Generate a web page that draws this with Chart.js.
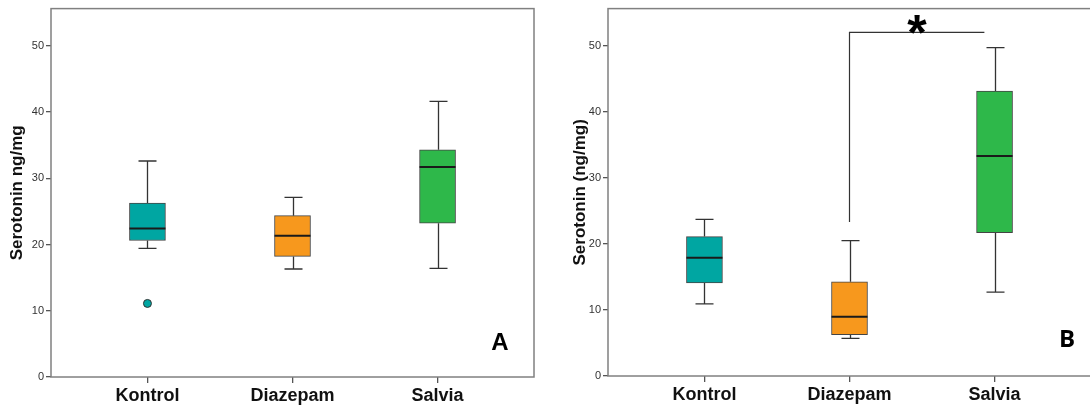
<!DOCTYPE html>
<html>
<head>
<meta charset="utf-8">
<script src="https://cdn.jsdelivr.net/npm/chart.js@4.4.2/dist/chart.umd.min.js"></script>
<style>
  html, body { margin: 0; padding: 0; background: #fff; overflow: hidden; }
  #wrap { position: relative; width: 1090px; height: 409px; overflow: hidden; }
  #chartA { position: absolute; left: 0; top: 0; }
  #chartB { position: absolute; left: 545px; top: 0; }
</style>
</head>
<body>
<div id="wrap">
  <canvas id="chartA" width="545" height="409"></canvas>
  <canvas id="chartB" width="547" height="409"></canvas>
</div>
<script>
const groups = ['Kontrol', 'Diazepam', 'Salvia'];
const groupColors = ['#00a6a2', '#f7981d', '#2eb84a'];
const yTicks = [0, 10, 20, 30, 40, 50];

// panel A
const minA = [19.4, 16.3, 16.4];
const q1A = [20.6, 18.2, 23.2];
const medianA = [22.4, 21.3, 31.7];
const q3A = [26.25, 24.35, 34.3];
const maxA = [32.6, 27.1, 41.6];
const outlierGroupA = [0];
const outlierValueA = [11.1];

// panel B
const minB = [10.9, 5.7, 12.7];
const q1B = [14.1, 6.24, 21.7];
const medianB = [17.9, 8.96, 33.3];
const q3B = [21.1, 14.25, 43.1];
const maxB = [23.7, 20.5, 49.7];

// significance bracket Diazepam vs Salvia (panel B)
const bracketFrom = 2, bracketTo = 2.93;
const bracketLow = 23.3, bracketHigh = 52.0;

const FONT = "'Liberation Sans', Arial, sans-serif";
const BOX_W = 36;

function boxPlugin(stats, extra) {
  return {
    id: 'boxWhiskers',
    beforeDatasetsDraw(chart) {
      const { ctx, scales: { x, y } } = chart;
      ctx.save();
      ctx.strokeStyle = '#333';
      ctx.lineWidth = 1.3;
      stats.min.forEach((v, i) => {
        const px = Math.round(x.getPixelForValue(i + 1)) + 0.5;
        const cap = BOX_W / 4;
        ctx.beginPath();
        ctx.moveTo(px, y.getPixelForValue(stats.min[i]));
        ctx.lineTo(px, y.getPixelForValue(stats.q1[i]));
        ctx.moveTo(px, y.getPixelForValue(stats.q3[i]));
        ctx.lineTo(px, y.getPixelForValue(stats.max[i]));
        ctx.moveTo(px - cap, y.getPixelForValue(stats.min[i]));
        ctx.lineTo(px + cap, y.getPixelForValue(stats.min[i]));
        ctx.moveTo(px - cap, y.getPixelForValue(stats.max[i]));
        ctx.lineTo(px + cap, y.getPixelForValue(stats.max[i]));
        ctx.stroke();
      });
      ctx.restore();
    },
    afterDatasetsDraw(chart) {
      const { ctx, scales: { x, y } } = chart;
      ctx.save();
      ctx.strokeStyle = '#1a1a1a';
      ctx.lineWidth = 2;
      stats.median.forEach((v, i) => {
        const px = x.getPixelForValue(i + 1);
        const py = y.getPixelForValue(v);
        ctx.beginPath();
        ctx.moveTo(px - BOX_W / 2, py);
        ctx.lineTo(px + BOX_W / 2, py);
        ctx.stroke();
      });
      if (extra) extra(chart);
      ctx.restore();
    },
    afterDraw(chart) {
      const { ctx, chartArea: a } = chart;
      ctx.save();
      ctx.strokeStyle = '#808080';
      ctx.lineWidth = 1.5;
      ctx.strokeRect(a.left, a.top, a.right - a.left, a.bottom - a.top);
      ctx.restore();
    }
  };
}

function panelLetter(chart, letter, xv, yv, family) {
  const { ctx, scales: { x, y } } = chart;
  ctx.fillStyle = '#000';
  ctx.font = 'bold 24px ' + family;
  ctx.textAlign = 'center';
  ctx.textBaseline = 'alphabetic';
  ctx.fillText(letter, x.getPixelForValue(xv), y.getPixelForValue(yv) + 8.6);
}

function makeChart(id, opts) {
  const datasets = [{
    type: 'bar',
    data: groups.map((g, i) => ({ x: i + 1, y: [opts.q1[i], opts.q3[i]] })),
    backgroundColor: groupColors,
    borderColor: '#444',
    borderWidth: 1,
    borderSkipped: false,
    barThickness: BOX_W,
    grouped: false
  }];
  if (opts.outlierGroup) {
    datasets.push({
      type: 'scatter',
      data: opts.outlierGroup.map((g, i) => ({ x: g + 1, y: opts.outlierValue[i] })),
      backgroundColor: opts.outlierGroup.map(g => groupColors[g]),
      borderColor: '#333',
      borderWidth: 1,
      pointRadius: 4
    });
  }
  return new Chart(document.getElementById(id), {
    type: 'bar',
    data: { datasets: datasets },
    options: {
      responsive: false,
      animation: false,
      layout: { padding: { top: opts.top, right: opts.right, left: 0, bottom: 0 } },
      plugins: { legend: { display: false }, tooltip: { enabled: false } },
      scales: {
        x: {
          type: 'linear',
          min: 0.335,
          max: 3.665,
          offset: false,
          afterBuildTicks: axis => { axis.ticks = groups.map((g, i) => ({ value: i + 1 })); },
          afterFit: axis => { axis.height = opts.xHeight; },
          ticks: {
            callback: v => groups[v - 1],
            font: { family: FONT, size: 18, weight: 'bold' },
            color: '#111',
            padding: 2,
            maxRotation: 0,
            autoSkip: false
          },
          grid: { offset: false, drawOnChartArea: false, tickLength: 6, color: '#555', lineWidth: 1.3 },
          border: { display: false }
        },
        y: {
          min: 0,
          max: 55.6,
          afterBuildTicks: axis => { axis.ticks = yTicks.map(v => ({ value: v })); },
          afterFit: axis => { axis.width = opts.yWidth; },
          ticks: { font: { family: FONT, size: 11 }, color: '#333', padding: 2 },
          grid: { drawOnChartArea: false, tickLength: 5, color: '#555', lineWidth: 1.3 },
          border: { display: false },
          title: {
            display: true,
            text: opts.title,
            font: { family: FONT, size: 17, weight: 'bold' },
            color: '#111',
            padding: { top: opts.titlePad, bottom: 0 }
          }
        }
      }
    },
    plugins: [boxPlugin(opts, opts.extra)]
  });
}

makeChart('chartA', {
  min: minA, q1: q1A, median: medianA, q3: q3A, max: maxA,
  outlierGroup: outlierGroupA, outlierValue: outlierValueA,
  title: 'Serotonin ng/mg',
  top: 7, right: 11, xHeight: 32, yWidth: 51, titlePad: 7,
  extra: chart => panelLetter(chart, 'A', 3.43, 5.4, FONT)
});

makeChart('chartB', {
  min: minB, q1: q1B, median: medianB, q3: q3B, max: maxB,
  title: 'Serotonin (ng/mg)',
  top: 8, right: 1, xHeight: 33, yWidth: 63, titlePad: 25,
  extra: chart => {
    const { ctx, scales: { x, y } } = chart;
    ctx.strokeStyle = '#333';
    ctx.lineWidth = 1.2;
    ctx.beginPath();
    ctx.moveTo(x.getPixelForValue(bracketFrom), y.getPixelForValue(bracketLow));
    ctx.lineTo(x.getPixelForValue(bracketFrom), y.getPixelForValue(bracketHigh));
    ctx.lineTo(x.getPixelForValue(bracketTo), y.getPixelForValue(bracketHigh));
    ctx.stroke();
    ctx.fillStyle = '#000';
    ctx.font = 'bold 50px ' + FONT;
    ctx.textAlign = 'center';
    ctx.textBaseline = 'alphabetic';
    ctx.fillText('*', x.getPixelForValue((bracketFrom + bracketTo) / 2), y.getPixelForValue(53.8) + 30);
    panelLetter(chart, 'B', 3.5, 5.7, "'Open Sans', sans-serif");
  }
});
</script>
</body>
</html>
